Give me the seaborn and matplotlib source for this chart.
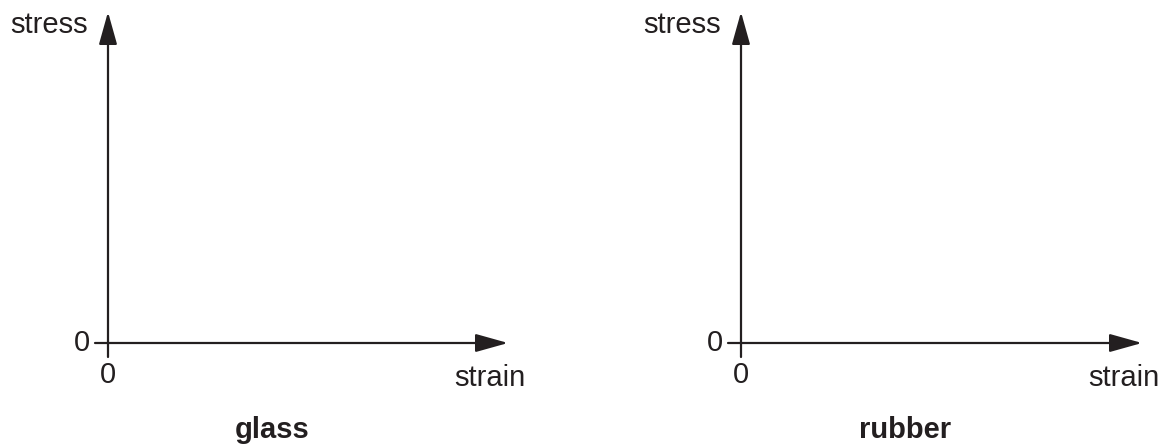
import matplotlib
matplotlib.use('Agg')
import matplotlib.pyplot as plt
import seaborn as sns

sns.set_style('white')
plt.rcParams['font.family'] = ['Liberation Sans', 'DejaVu Sans']

# chart content
materials = ['glass', 'rubber']
x_label = 'strain'
y_label = 'stress'
origin_ticks = [0]

W, H = 1164, 448
ink = '#231f20'
fs = 21

fig = plt.figure(figsize=(W / 100, H / 100), dpi=100)

# pixel layout of each panel: (x of y-axis, x of arrow tip)
panel_px = [(108, 508), (741, 1142)]
y_axis_px, y_tip_px = 343, 12


def fx(px):
    return px / W


def fy(py):
    return 1 - py / H


for name, (x0, x1) in zip(materials, panel_px):
    ax = fig.add_axes([fx(x0), fy(y_axis_px), fx(x1 - x0), (y_axis_px - y_tip_px) / H])
    ax.set_xlim(0, 1)
    ax.set_ylim(0, 1)
    ax.axis('off')

    tx = 13 / (x1 - x0)
    ty = 14 / (y_axis_px - y_tip_px)
    arrow = dict(arrowstyle='-|>,head_length=1.0,head_width=0.28',
                 mutation_scale=20, lw=1.6, color=ink,
                 shrinkA=0, shrinkB=0)
    # axes with arrowheads
    ax.annotate('', xy=(1, 0), xytext=(-tx, 0), arrowprops=arrow,
                annotation_clip=False)
    ax.annotate('', xy=(0, 1), xytext=(0, -ty), arrowprops=arrow,
                annotation_clip=False)

    for t in origin_ticks:
        fig.text(fx(x0 - 26), fy(y_axis_px), str(t), ha='center', va='center',
                 fontsize=fs, color=ink)
        fig.text(fx(x0), fy(375), str(t), ha='center', va='center',
                 fontsize=fs, color=ink)

    fig.text(fx(x1 - 18), fy(378), x_label, ha='center', va='center',
             fontsize=fs, color=ink)
    fig.text(fx(x0 - 20), fy(25), y_label, ha='right', va='center',
             fontsize=fs, color=ink)
    fig.text(fx((x0 + x1) / 2 - 36), fy(430), name, ha='center', va='center',
             fontsize=fs, fontweight='bold', color=ink)

fig.savefig('out.png', dpi=100)
